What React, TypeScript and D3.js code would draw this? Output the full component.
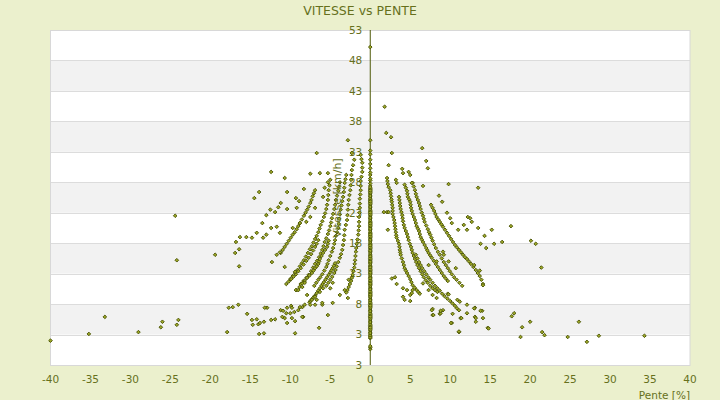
import { useRef, useEffect } from 'react';
import * as d3 from 'd3';

type Pt = [number, number]; // [pente %, vitesse km/h]

const xTicks = [-40, -35, -30, -25, -20, -15, -10, -5, 0, 5, 10, 15, 20, 25, 30, 35, 40];
const yTicks = [53, 48, 43, 38, 33, 28, 23, 18, 13, 8, 3, -2];
const yTickLabels = ['53', '48', '43', '38', '33', '28', '23', '18', '13', '8', '3', '3'];

// points at pente = 0
const vitessePlat = [
  0.6, 0.9, 1.1, 2.4, 2.7, 3.1, 3.4, 3.6, 4.0, 4.3, 4.5, 4.9, 5.2, 5.4, 5.8, 6.1, 6.3, 6.7, 7.0,
  7.2, 7.6, 7.9, 8.1, 8.5, 8.8, 9.0, 9.4, 9.7, 9.9, 10.3, 10.6, 10.8, 11.2, 11.5, 11.7, 12.1,
  12.4, 12.6, 13.0, 13.3, 13.5, 13.9, 14.2, 14.4, 14.8, 15.1, 15.3, 15.7, 16.0, 16.2, 16.6,
  16.9, 17.1, 17.5, 17.8, 18.0, 18.4, 18.7, 18.9, 19.3, 19.6, 19.8, 20.2, 20.5, 20.7, 21.1,
  21.4, 21.6, 22.0, 22.3, 22.5, 22.9, 23.2, 23.4, 23.8, 24.1, 24.3, 24.7, 25.0, 25.2, 25.6,
  25.9, 26.1, 26.5, 26.8, 27.0, 27.4, 27.8, 28.3, 28.6, 29.2, 29.6, 30.3, 31.0, 31.7, 32.6,
  33.2, 34.9, 50.2,
];
const vitessePlatBis = [
  2.55, 2.9, 3.25, 3.8, 4.15, 4.7, 5.05, 5.6, 5.95, 6.5, 6.85, 7.4, 7.75, 8.3, 8.65, 9.2, 9.55,
  10.1, 10.45, 11.0, 11.35, 11.9, 12.25, 12.8, 13.15, 13.7, 14.05, 14.6, 14.95, 15.5, 15.85,
  16.4, 16.75, 17.3, 17.65, 18.2, 18.55, 19.1, 19.45, 20.0, 20.35, 20.9, 21.25, 21.8, 22.15,
  22.7, 23.05, 23.6, 23.95, 24.5, 24.85, 25.4, 25.75, 26.3, 26.65, 27.2,
];

// montée (pente > 0)
const monteeA: Pt[] = [
  [2.1, 28.7], [2.15, 28.2], [2.2, 27.7], [2.3, 27.2], [2.5, 26.7], [2.55, 26.2], [2.6, 25.7],
  [2.65, 25.2], [2.7, 24.8], [2.75, 24.3], [2.8, 23.8], [2.8, 23.3], [2.8, 22.8], [2.9, 22.3],
  [3.0, 21.8], [3.05, 21.3], [3.1, 20.8], [3.15, 20.3], [3.2, 19.8], [3.25, 19.3], [3.3, 18.9],
  [3.45, 18.4], [3.6, 17.9], [3.65, 17.4], [3.7, 16.9], [3.75, 16.5], [3.8, 16.1], [3.95, 15.5],
  [4.1, 14.9], [4.2, 14.4], [4.3, 13.9], [4.45, 13.5], [4.6, 13.1], [4.8, 12.6], [5.0, 12.1],
  [5.15, 11.6], [5.3, 11.1], [5.55, 10.7], [5.8, 10.3], [6.0, 10.0], [6.2, 9.7],
];
const monteeB: Pt[] = [
  [3.6, 25.6], [3.65, 25.1], [3.7, 24.6], [3.75, 24.1], [3.8, 23.6], [3.9, 23.1], [4.0, 22.6],
  [4.05, 22.1], [4.1, 21.6], [4.2, 21.0], [4.3, 20.5], [4.45, 20.0], [4.6, 19.5], [4.7, 19.0],
  [4.8, 18.5], [4.95, 17.9], [5.1, 17.4], [5.2, 16.9], [5.3, 16.4], [5.45, 15.9], [5.6, 15.4],
  [5.75, 14.9], [5.9, 14.4], [6.1, 13.9], [6.3, 13.4], [6.5, 12.9], [6.7, 12.4], [6.95, 11.9],
  [7.2, 11.5], [7.5, 11.0], [7.8, 10.6], [8.1, 10.3], [8.4, 10.0],
];
const monteeC: Pt[] = [
  [4.3, 27.6], [4.45, 27.1], [4.6, 26.6], [4.65, 26.1], [4.7, 25.6], [4.85, 25.2], [5.0, 24.8],
  [5.05, 24.3], [5.1, 23.8], [5.2, 23.3], [5.3, 22.8], [5.45, 22.3], [5.6, 21.8], [5.7, 21.3],
  [5.8, 20.8], [5.95, 20.4], [6.1, 20.0], [6.2, 19.5], [6.3, 19.0], [6.45, 18.6], [6.6, 18.2],
  [6.8, 17.7], [7.0, 17.2], [7.15, 16.8], [7.3, 16.4], [7.5, 16.0], [7.7, 15.6], [7.95, 15.1],
  [8.2, 14.6], [8.45, 14.1], [8.7, 13.6], [8.95, 13.1], [9.2, 12.6], [9.45, 12.2], [9.7, 11.8],
];
const monteeD: Pt[] = [
  [5.3, 27.9], [5.45, 27.3], [5.6, 26.7], [5.7, 26.1], [5.8, 25.6], [5.95, 25.1], [6.1, 24.6],
  [6.2, 24.1], [6.3, 23.6], [6.45, 23.0], [6.6, 22.5], [6.7, 22.0], [6.8, 21.5], [7.0, 20.9],
  [7.2, 20.3], [7.35, 19.8], [7.5, 19.4], [7.65, 18.9], [7.8, 18.4], [8.0, 17.8], [8.2, 17.2],
  [8.45, 16.6], [8.7, 16.1], [8.95, 15.5], [9.2, 14.9], [9.45, 14.4], [9.7, 13.9], [9.95, 13.4],
  [10.2, 12.9], [10.5, 12.4], [10.8, 12.0], [11.15, 11.5], [11.5, 11.0],
];
const monteeE: Pt[] = [
  [7.6, 24.3], [7.8, 23.8], [8.0, 23.3], [8.15, 22.8], [8.3, 22.3], [8.5, 21.9], [8.7, 21.5],
  [8.9, 21.1], [9.1, 20.7], [9.35, 20.2], [9.6, 19.7], [9.85, 19.2], [10.1, 18.7], [10.35, 18.2],
  [10.6, 17.7], [10.85, 17.3], [11.1, 16.9], [11.35, 16.5], [11.6, 16.1], [11.85, 15.7],
  [12.1, 15.4], [12.35, 15.0], [12.6, 14.6], [12.9, 14.1], [13.2, 13.6], [13.45, 13.1],
  [13.7, 12.6], [13.9, 12.0], [14.1, 11.3],
];
const monteeF: Pt[] = [
  [5.7, 16.1], [5.9, 15.5], [6.1, 14.9], [6.3, 14.4], [6.5, 13.9], [6.75, 13.4], [7.0, 12.9],
  [7.25, 12.4], [7.5, 12.0], [7.8, 11.5], [8.1, 11.0], [8.4, 10.6], [8.7, 10.2], [9.0, 9.7],
  [9.3, 9.3], [9.65, 8.9], [10.0, 8.5], [10.3, 8.1], [10.6, 7.7], [10.85, 7.3], [11.1, 7.0],
];
const monteeDispersion: Pt[] = [
  [1.8, 40.4], [2.0, 36.1], [2.6, 35.4], [2.7, 32.8], [6.5, 33.6], [7.0, 31.5], [7.2, 30.3],
  [2.3, 30.8], [4.0, 30.2], [4.1, 29.5], [4.8, 29.7], [5.0, 29.2], [3.2, 28.4], [3.3, 27.9],
  [5.2, 27.9], [6.6, 27.4], [9.8, 27.7], [13.5, 27.1], [8.6, 25.8], [9.0, 24.8], [9.6, 23.0],
  [10.0, 22.1], [10.2, 21.3], [11.0, 20.2], [11.7, 21.0], [12.1, 20.2], [12.2, 22.3],
  [12.5, 22.1], [12.7, 21.5], [13.5, 20.5], [14.3, 19.2], [15.2, 20.2], [17.6, 20.8],
  [13.8, 17.9], [14.5, 17.2], [15.5, 17.9], [16.5, 18.2], [20.1, 18.4], [20.7, 17.9],
  [21.4, 14.0], [2.2, 20.2], [2.1, 23.1], [2.3, 23.1], [1.7, 23.1],
  [3.3, 11.3], [4.1, 9.2], [4.3, 8.7], [5.0, 8.5], [5.0, 9.5], [5.3, 10.3], [7.8, 7.2],
  [7.8, 6.2], [8.7, 6.4], [9.1, 7.0], [9.7, 9.7], [10.2, 4.9], [10.3, 6.4], [11.1, 3.4],
  [11.3, 5.7], [12.1, 6.5], [13.1, 5.9], [13.2, 5.1], [13.1, 7.4], [14.0, 6.9], [14.1, 5.7],
  [14.7, 4.1], [14.1, 11.1], [17.7, 6.0], [18.0, 6.5], [18.8, 2.6], [19.0, 4.2], [20.0, 5.1],
  [21.5, 3.4], [21.8, 2.9], [24.7, 2.6], [26.1, 5.1], [27.1, 1.8], [28.6, 2.8], [34.3, 2.8],
  [2.7, 12.2], [3.1, 12.4], [4.1, 10.6], [4.6, 10.3], [5.2, 9.8], [7.3, 14.4], [8.3, 15.0],
  [9.1, 16.6], [9.2, 16.1], [9.8, 15.0], [10.7, 13.9], [13.0, 14.4], [13.7, 13.5], [9.8, 9.6],
  [10.9, 8.7], [11.2, 8.4], [12.1, 7.9], [13.0, 7.3], [13.8, 6.9], [8.8, 6.5], [7.9, 6.2],
  [7.7, 7.0], [8.8, 6.9], [11.4, 5.7], [13.2, 5.7], [10.1, 4.9], [11.1, 3.5], [14.8, 4.0],
  [6.6, 11.4], [7.3, 10.3], [7.8, 9.5], [8.3, 9.0],
];

// descente (pente < 0)
const descenteA: Pt[] = [
  [-1.2, 32.5], [-1.1, 31.8], [-1.0, 31.2], [-1.0, 30.4], [-1.0, 29.7], [-1.1, 28.9],
  [-1.2, 28.2], [-1.2, 27.4], [-1.2, 26.7], [-1.25, 26.0], [-1.3, 25.3], [-1.3, 24.5],
  [-1.3, 23.8], [-1.35, 23.0], [-1.4, 22.3], [-1.4, 21.5], [-1.4, 20.8], [-1.45, 20.1],
  [-1.5, 19.4], [-1.6, 18.6], [-1.7, 17.9], [-1.75, 17.2], [-1.8, 16.6], [-1.85, 15.9],
  [-1.9, 15.2], [-1.95, 14.6], [-2.0, 14.0], [-2.1, 13.4], [-2.2, 12.8], [-2.3, 12.3],
  [-2.4, 11.8], [-2.55, 11.3], [-2.7, 10.8], [-2.85, 10.3], [-3.0, 9.9],
];
const descenteB: Pt[] = [
  [-2.0, 31.7], [-2.15, 30.8], [-2.3, 30.0], [-2.35, 29.2], [-2.4, 28.4], [-2.45, 27.5],
  [-2.5, 26.7], [-2.6, 25.9], [-2.7, 25.1], [-2.75, 24.3], [-2.8, 23.5], [-2.85, 22.6],
  [-2.9, 21.8], [-3.05, 21.0], [-3.2, 20.2], [-3.25, 19.3], [-3.3, 18.5], [-3.4, 17.7],
  [-3.5, 16.9], [-3.65, 16.2], [-3.8, 15.6], [-4.0, 14.9], [-4.2, 14.2], [-4.35, 13.6],
  [-4.5, 13.1], [-4.75, 12.5], [-5.0, 12.0], [-5.25, 11.5], [-5.5, 11.0],
];
const descenteC: Pt[] = [
  [-3.0, 29.2], [-3.1, 28.5], [-3.2, 27.9], [-3.25, 27.1], [-3.3, 26.4], [-3.4, 25.6],
  [-3.5, 24.9], [-3.6, 24.2], [-3.7, 23.5], [-3.8, 22.7], [-3.9, 22.0], [-3.95, 21.2],
  [-4.0, 20.5], [-4.15, 19.8], [-4.3, 19.2], [-4.4, 18.5], [-4.5, 17.9], [-4.65, 17.2],
  [-4.8, 16.6], [-5.0, 15.9], [-5.2, 15.2], [-5.35, 14.6], [-5.5, 14.1], [-5.75, 13.5],
  [-6.0, 12.9], [-6.25, 12.4], [-6.5, 12.0], [-6.75, 11.5], [-7.0, 11.0],
];
const descenteD: Pt[] = [
  [-3.8, 28.0], [-3.9, 27.3], [-4.0, 26.6], [-4.15, 25.8], [-4.3, 25.1], [-4.4, 24.3],
  [-4.5, 23.6], [-4.65, 22.8], [-4.8, 22.1], [-4.9, 21.4], [-5.0, 20.8], [-5.15, 20.1],
  [-5.3, 19.5], [-5.5, 18.8], [-5.7, 18.2], [-5.85, 17.5], [-6.0, 16.9], [-6.2, 16.3],
  [-6.4, 15.7], [-6.65, 15.1], [-6.9, 14.6], [-7.15, 14.0], [-7.4, 13.4], [-7.7, 12.8],
  [-8.0, 12.3], [-8.35, 11.8], [-8.7, 11.3],
];
const descenteE: Pt[] = [
  [-5.0, 28.4], [-5.1, 27.5], [-5.2, 26.7], [-5.25, 25.9], [-5.3, 25.1], [-5.4, 24.3],
  [-5.5, 23.6], [-5.65, 22.9], [-5.8, 22.3], [-6.0, 21.6], [-6.2, 21.0], [-6.35, 20.4],
  [-6.5, 19.8], [-6.7, 19.2], [-6.9, 18.7], [-7.1, 18.1], [-7.3, 17.5], [-7.55, 17.0],
  [-7.8, 16.4], [-8.05, 15.8], [-8.3, 15.2], [-8.55, 14.7], [-8.8, 14.2], [-9.1, 13.6],
  [-9.4, 13.1], [-9.7, 12.6], [-10.0, 12.1],
];
const descenteF: Pt[] = [
  [-6.9, 26.7], [-7.05, 26.2], [-7.2, 25.7], [-7.35, 25.1], [-7.5, 24.6], [-7.7, 24.0],
  [-7.9, 23.5], [-8.1, 23.0], [-8.3, 22.5], [-8.55, 21.9], [-8.8, 21.3], [-9.0, 20.8],
  [-9.2, 20.3], [-9.45, 19.8], [-9.7, 19.4], [-9.95, 18.9], [-10.2, 18.4], [-10.45, 17.9],
  [-10.7, 17.4], [-10.95, 16.9], [-11.2, 16.4],
];
const descenteG: Pt[] = [
  [-6.5, 18.5], [-6.7, 17.9], [-6.9, 17.4], [-7.15, 16.8], [-7.4, 16.2], [-7.7, 15.6],
  [-8.0, 15.1], [-8.35, 14.5], [-8.7, 13.9], [-9.0, 13.4], [-9.3, 12.9], [-9.6, 12.5],
  [-9.9, 12.1], [-10.2, 11.7], [-10.5, 11.3],
];
const descenteH: Pt[] = [
  [-9.2, 10.3], [-8.85, 10.8], [-8.5, 11.4], [-8.2, 11.8], [-7.9, 12.3], [-7.6, 12.7],
  [-7.3, 13.1], [-7.1, 13.5], [-6.9, 13.9], [-6.7, 14.2], [-6.5, 14.6], [-6.4, 15.0],
  [-6.3, 15.4], [-6.1, 15.9], [-5.9, 16.4], [-5.65, 16.9], [-5.4, 17.4], [-5.3, 17.9],
  [-5.2, 18.4],
];
const descenteI: Pt[] = [
  [-7.6, 8.3], [-7.45, 8.55], [-7.3, 8.8], [-7.1, 9.1], [-6.9, 9.4], [-6.7, 9.8], [-6.5, 10.2],
  [-6.3, 10.6], [-6.1, 11.0], [-5.95, 11.3], [-5.8, 11.6], [-5.6, 12.0], [-5.4, 12.4],
  [-5.2, 12.8], [-5.0, 13.2], [-4.85, 13.55], [-4.7, 13.9], [-4.55, 14.3], [-4.4, 14.7],
];
const descenteDispersion: Pt[] = [
  [-2.8, 34.9], [-2.3, 32.8], [-6.7, 32.8], [-12.4, 29.7], [-10.7, 28.7], [-7.5, 29.4],
  [-6.3, 29.5], [-13.9, 26.4], [-14.5, 25.4], [-10.4, 26.4], [-8.3, 26.9], [-8.9, 24.9],
  [-9.3, 25.4], [-12.5, 23.5], [-11.9, 23.1], [-11.5, 23.9], [-11.2, 24.6], [-10.4, 23.6],
  [-9.2, 23.8], [-13.0, 22.6], [-13.5, 21.3], [-14.2, 19.7], [-14.8, 18.9], [-15.5, 19.0],
  [-16.3, 19.0], [-16.8, 18.2], [-16.4, 17.0], [-12.4, 20.5], [-11.7, 20.7], [-13.0, 19.4],
  [-13.4, 18.9], [-11.3, 19.7], [-9.7, 20.5], [-8.8, 21.3], [-8.0, 21.5], [-7.5, 22.3],
  [-6.9, 23.8], [-5.9, 25.6], [-5.7, 27.1], [-5.3, 28.0], [-5.3, 29.5], [-19.4, 16.1],
  [-24.2, 15.2], [-24.4, 22.5], [-16.9, 16.4], [-16.4, 14.2], [-12.3, 14.9], [-11.7, 16.1],
  [-11.3, 16.5], [-10.7, 14.1], [-9.4, 13.3],
  [-9.3, 10.3], [-9.0, 10.3], [-8.5, 10.8], [-8.2, 11.5], [-7.9, 9.5], [-7.3, 8.7],
  [-6.9, 9.2], [-6.3, 10.0], [-5.9, 10.6], [-5.0, 10.6], [-4.7, 11.5], [-3.8, 9.5],
  [-3.2, 10.3], [-2.8, 9.0], [-2.7, 12.0],
  [-35.2, 3.1], [-33.2, 5.9], [-29.0, 3.4], [-26.2, 4.2], [-26.0, 5.1], [-24.2, 4.6],
  [-24.0, 5.4], [-17.9, 3.4], [-17.7, 7.4], [-17.2, 7.5], [-16.5, 7.9], [-15.4, 6.4],
  [-14.8, 5.4], [-14.7, 4.6], [-14.2, 5.5], [-14.0, 4.7], [-13.8, 4.9], [-13.9, 3.1],
  [-13.3, 3.2], [-13.3, 5.1], [-12.9, 7.4], [-12.4, 5.4], [-11.9, 5.5], [-11.2, 7.0],
  [-10.9, 6.9], [-11.0, 5.9], [-10.4, 4.9], [-10.4, 7.4], [-9.9, 7.7], [-10.0, 6.5],
  [-9.4, 5.2], [-9.4, 3.2], [-9.5, 6.7], [-9.0, 7.0], [-8.5, 7.5], [-8.4, 5.9], [-8.2, 7.9],
  [-6.4, 4.1], [-5.3, 6.2], [-6.7, 8.7], [-6.0, 7.9], [-6.9, 7.9], [-4.7, 8.2], [-40.0, 2.0],
  [-8.8, 7.5], [-9.8, 7.4], [-10.5, 6.5], [-10.7, 5.7], [-9.8, 5.7], [-8.5, 5.9], [-7.5, 7.9],
  [-6.0, 8.2], [-13.2, 7.4],
];

const series: Pt[][] = [
  vitessePlat.map((v) => [0, v] as Pt),
  vitessePlatBis.map((v) => [0, v] as Pt),
  monteeA, monteeB, monteeC, monteeD, monteeE, monteeF, monteeDispersion,
  descenteA, descenteB, descenteC, descenteD, descenteE, descenteF, descenteG, descenteH,
  descenteI, descenteDispersion,
];

const textColor = '#66701c';
const markColor = '#4f5908';

export default function App() {
  const svgRef = useRef<SVGSVGElement>(null);

  useEffect(() => {
    if (!svgRef.current) return;
    const svg = d3.select(svgRef.current);
    svg.selectAll('*').remove();

    const width = 720;
    const height = 400;
    const x = d3.scaleLinear().domain([-40, 40]).range([50.5, 690]);
    const y = d3.scaleLinear().domain([-2, 53]).range([365, 30]);

    svg.append('rect').attr('width', width).attr('height', height).attr('fill', '#ebf0cd');

    // plot area
    svg.append('rect')
      .attr('x', x(-40)).attr('y', y(53))
      .attr('width', x(40) - x(-40)).attr('height', y(-2) - y(53))
      .attr('fill', '#ffffff');

    // alternating bands
    for (let i = 0; i < yTicks.length - 1; i++) {
      if (i % 2 === 1) {
        svg.append('rect')
          .attr('x', x(-40)).attr('y', y(yTicks[i]))
          .attr('width', x(40) - x(-40)).attr('height', y(yTicks[i + 1]) - y(yTicks[i]))
          .attr('fill', '#f2f2f2');
      }
    }

    // grid lines
    svg.append('g')
      .selectAll('line')
      .data(yTicks)
      .join('line')
      .attr('x1', x(-40)).attr('x2', x(40))
      .attr('y1', (d) => Math.round(y(d)) + 0.5).attr('y2', (d) => Math.round(y(d)) + 0.5)
      .attr('stroke', '#dcdcdc');

    svg.append('rect')
      .attr('x', x(-40)).attr('y', y(53) + 0.5)
      .attr('width', x(40) - x(-40)).attr('height', y(-2) - y(53))
      .attr('fill', 'none')
      .attr('stroke', '#d8d8d8');

    // y axis at pente 0
    svg.append('line')
      .attr('x1', x(0)).attr('x2', x(0))
      .attr('y1', y(53)).attr('y2', y(-2))
      .attr('stroke', markColor);

    // y tick labels
    svg.append('g')
      .selectAll('text')
      .data(yTicks)
      .join('text')
      .attr('x', x(0) - 8)
      .attr('y', (d) => y(d))
      .attr('dy', '0.36em')
      .attr('text-anchor', 'end')
      .attr('font-family', 'DejaVu Sans')
      .attr('font-size', 10.5)
      .attr('fill', textColor)
      .text((_, i) => yTickLabels[i]);

    // x tick labels
    svg.append('g')
      .selectAll('text')
      .data(xTicks)
      .join('text')
      .attr('x', (d) => x(d))
      .attr('y', 379)
      .attr('dy', '0.36em')
      .attr('text-anchor', 'middle')
      .attr('font-family', 'DejaVu Sans')
      .attr('font-size', 10.5)
      .attr('fill', textColor)
      .text((d) => String(d));

    // markers
    const diamond = 'M0,-1.8L1.8,0L0,1.8L-1.8,0Z';
    const all = series.flat();
    svg.append('g')
      .selectAll('path')
      .data(all)
      .join('path')
      .attr('d', diamond)
      .attr('transform', (d) => `translate(${x(d[0])},${y(d[1])})`)
      .attr('fill', '#9ea826')
      .attr('stroke', markColor)
      .attr('stroke-width', 1);

    // titles
    svg.append('text')
      .attr('x', 360).attr('y', 10).attr('dy', '0.36em')
      .attr('text-anchor', 'middle')
      .attr('font-family', 'DejaVu Sans')
      .attr('font-size', 12.5)
      .attr('fill', textColor)
      .text('VITESSE vs PENTE');

    svg.append('text')
      .attr('transform', `translate(337,198) rotate(-90)`)
      .attr('dy', '0.36em')
      .attr('text-anchor', 'middle')
      .attr('font-family', 'DejaVu Sans')
      .attr('font-size', 11)
      .attr('fill', textColor)
      .text('Vitesse [km/h]');

    svg.append('text')
      .attr('x', 690).attr('y', 395).attr('dy', '0.36em')
      .attr('text-anchor', 'end')
      .attr('font-family', 'DejaVu Sans')
      .attr('font-size', 10.5)
      .attr('fill', textColor)
      .text('Pente [%]');
  }, []);

  return (
    <svg
      ref={svgRef}
      width={720}
      height={400}
      style={{ position: 'absolute', left: 0, top: 0 }}
    />
  );
}
